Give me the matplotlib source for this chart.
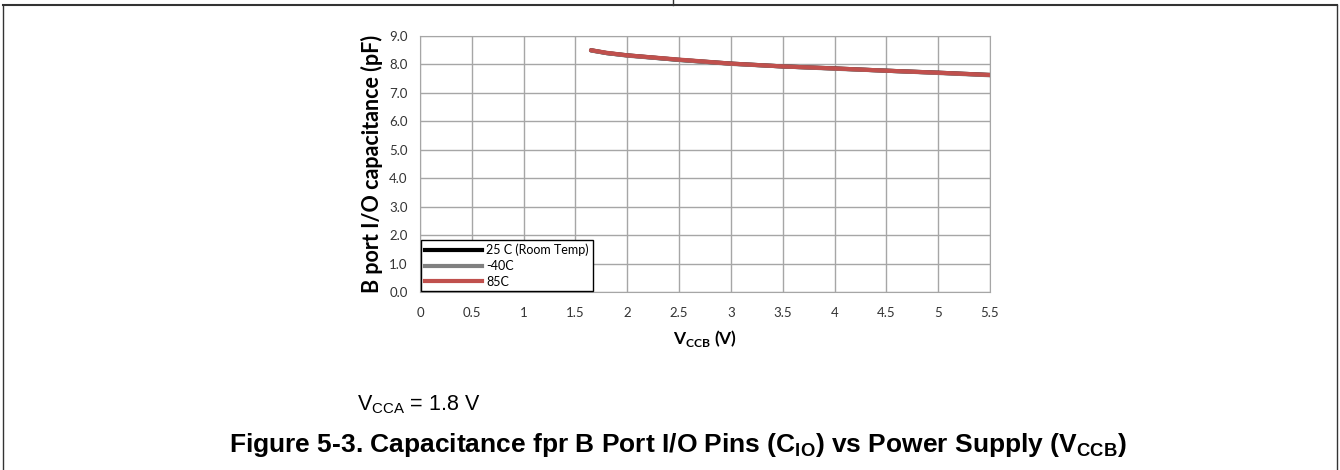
import matplotlib.pyplot as plt
from matplotlib.lines import Line2D

# data
vccb = [1.65, 1.8, 2.0, 2.5, 3.0, 3.5, 4.0, 4.5, 5.0, 5.5]
cap_25c = [8.50, 8.40, 8.32, 8.16, 8.03, 7.93, 7.86, 7.78, 7.71, 7.63]
cap_m40c = [8.49, 8.40, 8.31, 8.16, 8.02, 7.93, 7.85, 7.78, 7.70, 7.62]
cap_85c = [8.50, 8.41, 8.32, 8.17, 8.03, 7.93, 7.86, 7.78, 7.71, 7.63]
series_labels = ['25 C (Room Temp)', '-40C', '85C']
x_ticks = [0, 0.5, 1, 1.5, 2, 2.5, 3, 3.5, 4, 4.5, 5, 5.5]
x_tick_labels = ['0', '0.5', '1', '1.5', '2', '2.5', '3', '3.5', '4', '4.5', '5', '5.5']
y_ticks = [0, 1, 2, 3, 4, 5, 6, 7, 8, 9]

plt.rcParams['font.family'] = ['Lato', 'DejaVu Sans']
plt.rcParams['mathtext.fontset'] = 'custom'
plt.rcParams['mathtext.rm'] = 'Liberation Sans'
plt.rcParams['mathtext.bf'] = 'Liberation Sans:bold'
plt.rcParams['mathtext.sf'] = 'Lato:bold'

fig = plt.figure(figsize=(13.4, 4.7), dpi=100)
ax = fig.add_axes([420 / 1340, 1 - 292 / 470, 570 / 1340, 256 / 470])

ax.plot(vccb, cap_25c, color='black', lw=3, label=series_labels[0], solid_capstyle='round')
ax.plot(vccb, cap_m40c, color='#808080', lw=3, label=series_labels[1], solid_capstyle='round')
ax.plot(vccb, cap_85c, color='#c0504d', lw=3, label=series_labels[2], solid_capstyle='round')

ax.set_xlim(0, 5.5)
ax.set_ylim(0, 9)
ax.set_xticks(x_ticks)
ax.set_xticklabels(x_tick_labels)
ax.set_yticks(y_ticks)
ax.set_yticklabels([f'{v:.1f}' for v in y_ticks])
ax.tick_params(length=0, labelsize=9.5, colors='#333333')
ax.tick_params(axis='y', pad=9)
ax.tick_params(axis='x', pad=11)
ax.grid(True, color='#a6a6a6', lw=1)
ax.set_axisbelow(True)
for s in ax.spines.values():
    s.set_color('#a6a6a6')

ax.set_xlabel(r'V$_{\mathsf{CCB}}$ (V)', fontsize=12.5, fontweight='bold', labelpad=6)
ax.set_ylabel('B port I/O capacitance (pF)', fontsize=15.5, fontweight='bold', labelpad=4)

handles = [Line2D([], [], color=c, lw=3) for c in ['black', '#808080', '#c0504d']]
leg = ax.legend(handles, series_labels, loc='lower left', fontsize=9, frameon=True,
                fancybox=False, edgecolor='black', framealpha=1, handlelength=4.6,
                borderaxespad=0, labelspacing=0.3, handletextpad=0.3, borderpad=0.3,
                bbox_to_anchor=(0.002, 0.002))
leg.get_frame().set_linewidth(1)

# caption text
fig.text(357 / 1340, 1 - 405 / 470, r'V$_{\mathrm{CCA}}$ = 1.8 V', fontsize=15.5,
         family='Liberation Sans', va='center')
fig.text(678 / 1340, 1 - 445 / 470,
         r'Figure 5-3. Capacitance fpr B Port I/O Pins (C$_{\mathbf{IO}}$) vs Power Supply (V$_{\mathbf{CCB}}$)',
         fontsize=19, fontweight='bold', family='Liberation Sans', ha='center', va='center')

# page frame
fig.add_artist(Line2D([3 / 1340, 1337 / 1340], [1 - 5 / 470, 1 - 5 / 470], color='#333333', lw=1.5))
fig.add_artist(Line2D([3 / 1340, 3 / 1340], [0, 1 - 5 / 470], color='#333333', lw=1))
fig.add_artist(Line2D([1337 / 1340, 1337 / 1340], [0, 1 - 5 / 470], color='#333333', lw=1))
fig.add_artist(Line2D([673 / 1340, 673 / 1340], [1 - 5 / 470, 1], color='#333333', lw=1))

fig.savefig('out.png', dpi=100)
